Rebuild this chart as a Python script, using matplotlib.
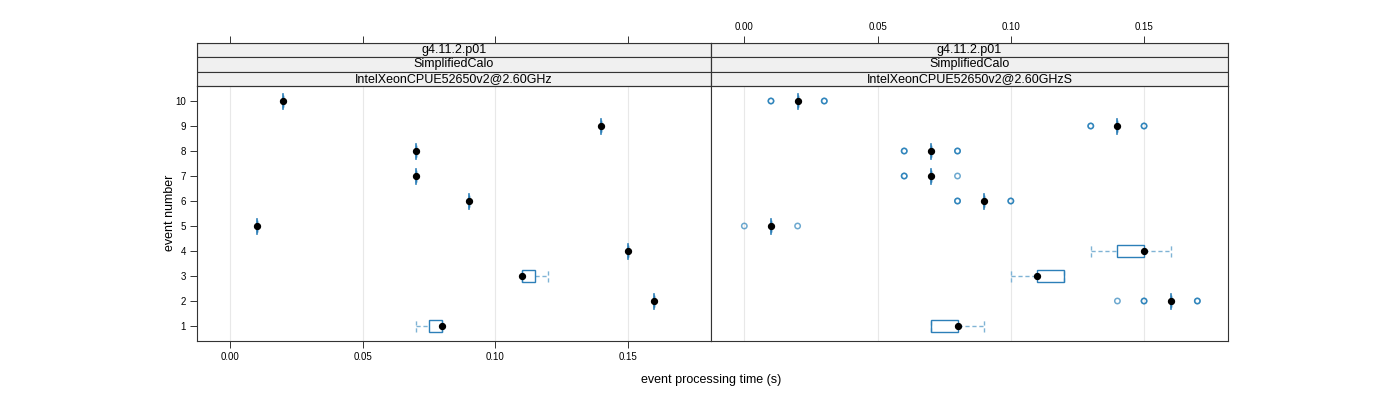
import numpy as np
import matplotlib.pyplot as plt
from matplotlib.patches import Rectangle

plt.rcParams['font.family'] = ['Liberation Sans', 'DejaVu Sans']

# event processing time samples (s), one list per event number
events = [1, 2, 3, 4, 5, 6, 7, 8, 9, 10]

times_left = [
    [0.07, 0.08, 0.08],
    [0.16],
    [0.11, 0.11, 0.12],
    [0.15],
    [0.01],
    [0.09],
    [0.07],
    [0.07],
    [0.14],
    [0.02],
]

times_right = [
    [0.07, 0.07, 0.07, 0.08, 0.08, 0.08, 0.08, 0.08, 0.09, 0.09],
    [0.14, 0.15, 0.15, 0.16, 0.16, 0.16, 0.16, 0.16, 0.16, 0.16, 0.16, 0.17, 0.17],
    [0.10, 0.11, 0.11, 0.11, 0.11, 0.11, 0.12, 0.12, 0.12, 0.12],
    [0.13, 0.14, 0.14, 0.14, 0.15, 0.15, 0.15, 0.15, 0.15, 0.16],
    [0.00, 0.01, 0.01, 0.01, 0.01, 0.01, 0.01, 0.01, 0.01, 0.02],
    [0.08, 0.08, 0.09, 0.09, 0.09, 0.09, 0.09, 0.09, 0.10, 0.10],
    [0.06, 0.06, 0.07, 0.07, 0.07, 0.07, 0.07, 0.07, 0.07, 0.08],
    [0.06, 0.06, 0.07, 0.07, 0.07, 0.07, 0.07, 0.07, 0.08, 0.08],
    [0.13, 0.13, 0.14, 0.14, 0.14, 0.14, 0.14, 0.14, 0.15, 0.15],
    [0.01, 0.01, 0.02, 0.02, 0.02, 0.02, 0.02, 0.02, 0.03, 0.03],
]

strips_left = ["g4.11.2.p01", "SimplifiedCalo", "IntelXeonCPUE52650v2@2.60GHz"]
strips_right = ["g4.11.2.p01", "SimplifiedCalo", "IntelXeonCPUE52650v2@2.60GHzS"]

x_ticks = [0.00, 0.05, 0.10, 0.15]
x_ticklabels = ["0.00", "0.05", "0.10", "0.15"]

BOX = "#2c7fb8"
WHISK = "#7fb3d5"
OUT = "#0a6fb0"
XLIM = (-0.0125, 0.1815)
YLIM = (0.4, 10.6)


def fivenum(v):
    # Tukey five number summary, as in R
    v = np.sort(np.asarray(v, dtype=float))
    n = len(v)
    n4 = np.floor((n + 3) / 2) / 2
    d = np.array([1, n4, (n + 1) / 2, n + 1 - n4, n]) - 1
    return 0.5 * (v[np.floor(d).astype(int)] + v[np.ceil(d).astype(int)])


def bw(ax, y, vals):
    s = fivenum(vals)
    iqr = s[3] - s[1]
    if abs(iqr) < 1e-9:
        iqr = 0.0
    vals = np.asarray(vals)
    eps = 1e-9
    lo_lim, hi_lim = s[1] - 1.5 * iqr - eps, s[3] + 1.5 * iqr + eps
    inside = vals[(vals >= lo_lim) & (vals <= hi_lim)]
    outs = vals[(vals < lo_lim) | (vals > hi_lim)]
    wlo, whi = inside.min(), inside.max()
    h = 0.25
    for a, b in [(wlo, s[1]), (s[3], whi)]:
        ax.plot([a, b], [y, y], color=WHISK, lw=1.0, ls=(0, (3, 2)), zorder=2)
    for c in [wlo, whi]:
        ax.plot([c, c], [y - h, y + h], color=WHISK, lw=1.0, ls=(0, (3, 2)), zorder=2)
    ax.add_patch(Rectangle((s[1], y - h), iqr, 2 * h, fill=False,
                           edgecolor=BOX, lw=1.0, zorder=3))
    if iqr == 0:
        ax.plot([s[2], s[2]], [y - h - 0.05, y + h + 0.05], color=BOX, lw=1.2, zorder=3)
    for o in outs:
        ax.scatter([o], [y], s=15, facecolors="none", edgecolors=OUT,
                   linewidths=1.1, alpha=0.6, zorder=4)
    ax.scatter([s[2]], [y], s=18, color="black", zorder=5)


fig = plt.figure(figsize=(14, 4), dpi=100)
W, H = 1400.0, 400.0


def px_axes(x0, y0, x1, y1):
    return fig.add_axes([x0 / W, 1 - y1 / H, (x1 - x0) / W, (y1 - y0) / H])


panels = [(197, 711, times_left, strips_left), (711, 1228, times_right, strips_right)]

for i, (x0, x1, data, strips) in enumerate(panels):
    ax = px_axes(x0, 86, x1, 341)
    for xt in x_ticks:
        ax.axvline(xt, color="#e8e8e8", lw=0.8, zorder=0)
    for ev, vals in zip(events, data):
        bw(ax, ev, vals)
    ax.set_xlim(XLIM)
    ax.set_ylim(YLIM)
    for sp in ax.spines.values():
        sp.set_color("#333333")
        sp.set_linewidth(0.8)
    ax.tick_params(axis="both", direction="out", length=5, width=0.7,
                   labelsize=7, color="#333333", pad=3)
    ax.set_xticks(x_ticks)
    if i == 0:
        ax.set_xticklabels(x_ticklabels)
        ax.set_yticks(events)
        ax.set_yticklabels([str(e) for e in events])
    else:
        ax.tick_params(axis="x", bottom=False, labelbottom=False)
        ax.set_yticks([])

    # strips
    st = px_axes(x0, 43, x1, 86)
    st.set_xlim(XLIM)
    st.set_ylim(0, 3)
    for k, label in enumerate(strips):
        yb = 2 - k
        st.add_patch(Rectangle((XLIM[0], yb), XLIM[1] - XLIM[0], 1,
                               facecolor="#f0f0f0", edgecolor="#333333", lw=0.8))
        st.text(np.mean(XLIM), yb + 0.5, label, ha="center", va="center", fontsize=9)
    for sp in st.spines.values():
        sp.set_color("#333333")
        sp.set_linewidth(0.8)
    st.set_yticks([])
    st.set_xticks(x_ticks)
    st.tick_params(axis="x", bottom=False, labelbottom=False, top=True,
                   direction="out", length=5, width=0.7, color="#333333",
                   labelsize=7, pad=3)
    st.xaxis.set_ticks_position("top")
    if i == 1:
        st.set_xticklabels(x_ticklabels)
        st.tick_params(axis="x", labeltop=True)
    else:
        st.tick_params(axis="x", labeltop=False)

fig.text(711 / W, 1 - 380 / H, "event processing time (s)", ha="center",
         va="center", fontsize=9)
fig.text(170 / W, 1 - 213 / H, "event number", ha="center", va="center",
         rotation=90, fontsize=9)

fig.savefig("out.png", dpi=100)
